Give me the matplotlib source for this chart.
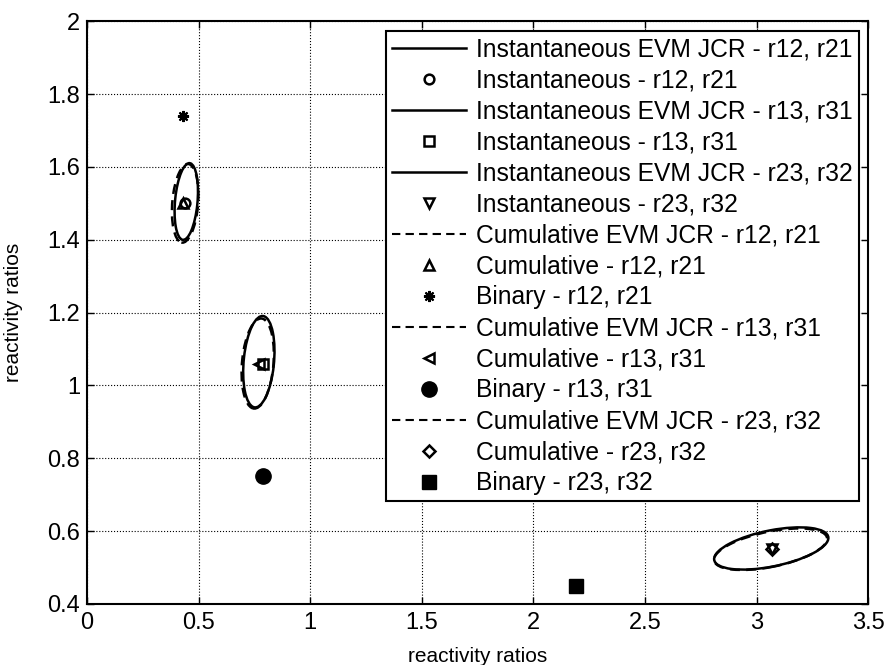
import numpy as np
import matplotlib.pyplot as plt
from matplotlib.patches import Ellipse
from matplotlib.lines import Line2D

plt.rcParams['font.family'] = ['Liberation Sans', 'DejaVu Sans']

pairs = ['r12, r21', 'r13, r31', 'r23, r32']

# joint confidence regions (EVM): centre, width, height, rotation (deg)
inst_jcr_x = [0.445, 0.770, 3.065]
inst_jcr_y = [1.505, 1.065, 0.552]
inst_jcr_w = [0.100, 0.135, 0.515]
inst_jcr_h = [0.213, 0.254, 0.100]
inst_jcr_ang = [-9.5, -10.2, 6.7]

cum_jcr_x = [0.440, 0.765, 3.062]
cum_jcr_y = [1.500, 1.060, 0.550]
cum_jcr_w = [0.115, 0.140, 0.510]
cum_jcr_h = [0.218, 0.250, 0.098]
cum_jcr_ang = [-9.0, -10.0, 6.7]

# point estimates
inst_x = [0.44, 0.79, 3.07]
inst_y = [1.50, 1.06, 0.55]
cum_x = [0.43, 0.77, 3.07]
cum_y = [1.50, 1.06, 0.55]
bin_x = [0.43, 0.79, 2.19]
bin_y = [1.74, 0.75, 0.45]

inst_mk = ['o', 's', 'v']
cum_mk = ['^', '<', 'D']
bin_mk = [(8, 2, 0), 'o', 's']

fig = plt.figure(figsize=(8.87, 6.65), dpi=100)
ax = fig.add_axes([0.098, 0.092, 0.881, 0.876])

dash = (4, 2.5)
handles, labels = [], []
for i in range(3):
    e = Ellipse((inst_jcr_x[i], inst_jcr_y[i]), inst_jcr_w[i], inst_jcr_h[i],
                angle=inst_jcr_ang[i], fill=False, ec='k', lw=1.8)
    ax.add_patch(e)
    handles.append(Line2D([], [], color='k', lw=1.8))
    labels.append('Instantaneous EVM JCR - ' + pairs[i])
    h, = ax.plot(inst_x[i], inst_y[i], ls='none', marker=inst_mk[i], ms=7,
                 mfc='none', mec='k', mew=1.8)
    handles.append(h)
    labels.append('Instantaneous - ' + pairs[i])

for i in range(3):
    e = Ellipse((cum_jcr_x[i], cum_jcr_y[i]), cum_jcr_w[i], cum_jcr_h[i],
                angle=cum_jcr_ang[i], fill=False, ec='k', lw=1.8,
                ls=(0, dash))
    ax.add_patch(e)
    handles.append(Line2D([], [], color='k', lw=1.5, dashes=dash))
    labels.append('Cumulative EVM JCR - ' + pairs[i])
    h, = ax.plot(cum_x[i], cum_y[i], ls='none', marker=cum_mk[i],
                 ms=6 if cum_mk[i] == 'D' else 7,
                 mfc='none', mec='k', mew=1.8)
    handles.append(h)
    labels.append('Cumulative - ' + pairs[i])
    if i == 0:
        h, = ax.plot(bin_x[i], bin_y[i], ls='none', marker=bin_mk[i], ms=8,
                     mec='k', mew=1.5)
    else:
        h, = ax.plot(bin_x[i], bin_y[i], ls='none', marker=bin_mk[i],
                     ms=11 if i == 1 else 10, mfc='k', mec='k')
    handles.append(h)
    labels.append('Binary - ' + pairs[i])

ax.set_xlim(0, 3.5)
ax.set_ylim(0.4, 2)
ax.set_xticks(np.arange(0, 3.51, 0.5))
ax.set_yticks(np.arange(0.4, 2.01, 0.2))
ax.set_xticklabels(['0', '0.5', '1', '1.5', '2', '2.5', '3', '3.5'])
ax.set_yticklabels(['0.4', '0.6', '0.8', '1', '1.2', '1.4', '1.6', '1.8', '2'])
ax.tick_params(direction='in', top=True, right=True, length=5, width=1,
               labelsize=17)
ax.tick_params(axis='y', pad=5)
ax.tick_params(axis='x', pad=6)
ax.grid(True, color='k', ls=':', lw=0.8)
for s in ax.spines.values():
    s.set_linewidth(1.5)

ax.set_xlabel('reactivity ratios', fontsize=15, labelpad=9)
ax.set_ylabel('reactivity ratios', fontsize=15, labelpad=17)

leg = ax.legend(handles, labels, loc='upper right', fontsize=17.7,
                handlelength=3.0, handletextpad=0.4, labelspacing=0.285,
                borderpad=0.25, borderaxespad=0.4, fancybox=False,
                framealpha=1, edgecolor='k')
leg.get_frame().set_linewidth(1.5)

fig.savefig('out.png', dpi=100)
